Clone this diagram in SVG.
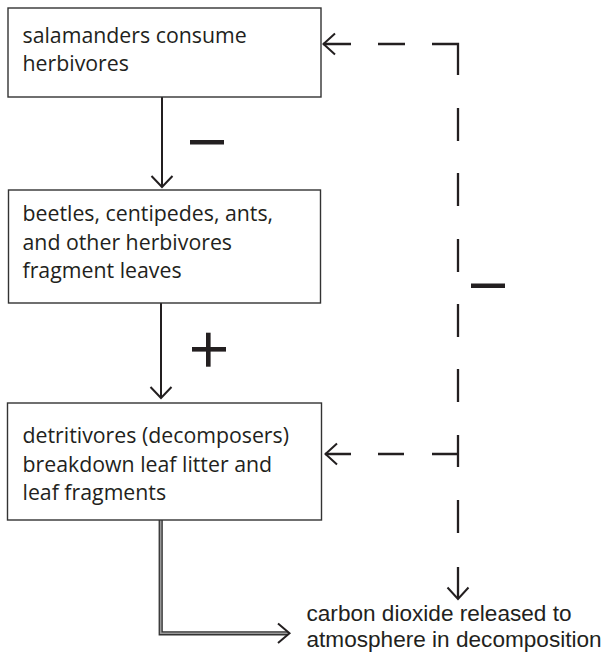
<svg xmlns="http://www.w3.org/2000/svg" width="608" height="656" viewBox="0 0 608 656">
<style>
.box{fill:#fff;stroke:#333;stroke-width:1.4}
.t{font-family:"Open Sans","Liberation Sans",sans-serif;font-size:21.3px;fill:#231f20}
.t2{font-family:"Liberation Sans",Arial,sans-serif;font-size:22.6px;fill:#231f20}
.ln{fill:none;stroke:#231f20;stroke-width:2;stroke-linecap:butt}
.ds{fill:none;stroke:#231f20;stroke-width:2.3;stroke-linecap:butt}
.sign{fill:#231f20}
</style>
<rect width="608" height="656" fill="#fff"/>
<g id="connectors">
  <path class="ln" d="M162 97 V186 M151.5 176 L162 187 L172.5 176"/>
  <path class="ln" d="M161 303 V397 M150.5 387 L161 398 L171.5 387"/>
  <path d="M160.7 520 V633.3 H288" fill="none" stroke="#333" stroke-width="4.2"/>
  <path d="M160.7 520 V633.3 H288" fill="none" stroke="#999" stroke-width="1.6"/>
  <path class="ln" d="M278 623.5 L289.5 633.3 L278 643"/>
  <path class="ds" d="M323 44 H351 M378 44 H405 M432 44 H458 V75 M458 108 V141 M458 173 V206 M458 239 V272 M458 304 V337 M458 369 V402 M458 435 V467 M432 454 H458 M458 500 V533 M458 567 V598"/>
  <path class="ds" d="M325 454 H351 M378 454 H404"/>
  <path class="ln" d="M335 33.5 L323.5 44 L335 54.5"/>
  <path class="ln" d="M337 443.5 L325.5 454 L337 464.5"/>
  <path class="ln" d="M447.5 587.5 L458 599 L468.5 587.5"/>
  <rect class="sign" x="190" y="140" width="34" height="4.5"/>
  <rect class="sign" x="192" y="347" width="34" height="4.6"/>
  <rect class="sign" x="206" y="332.7" width="4.6" height="34"/>
  <rect class="sign" x="471" y="283.5" width="34" height="4.5"/>
</g>
<g id="node1">
  <rect class="box" x="8" y="8" width="313" height="89"/>
  <text class="t"><tspan x="22.5" y="43">salamanders consume</tspan><tspan x="22.5" y="71">herbivores</tspan></text>
</g>
<g id="node2">
  <rect class="box" x="8.5" y="190" width="312" height="113"/>
  <text class="t"><tspan x="22.5" y="221">beetles, centipedes, ants,</tspan><tspan x="22.5" y="249.5">and other herbivores</tspan><tspan x="22.5" y="278">fragment leaves</tspan></text>
</g>
<g id="node3">
  <rect class="box" x="7.5" y="403" width="314" height="117"/>
  <text class="t"><tspan x="22.5" y="443">detritivores (decomposers)</tspan><tspan x="22.5" y="471.5">breakdown leaf litter and</tspan><tspan x="22.5" y="500">leaf fragments</tspan></text>
</g>
<g id="node4">
  <text class="t2"><tspan x="306.5" y="621">carbon dioxide released to</tspan><tspan x="306.5" y="646.5">atmosphere in decomposition</tspan></text>
</g>
</svg>
